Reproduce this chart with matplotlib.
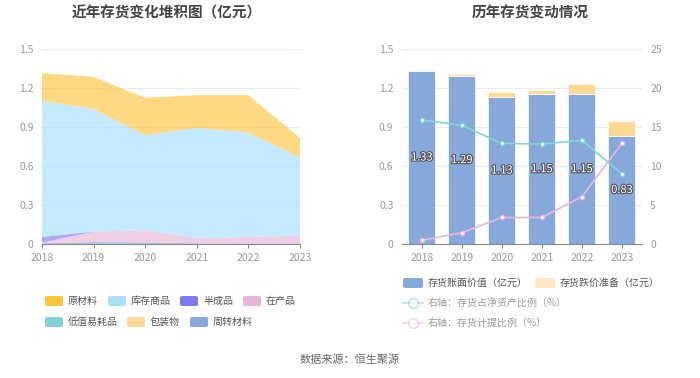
import matplotlib.pyplot as plt
import matplotlib.patheffects as pe
from matplotlib.patches import FancyBboxPatch
from matplotlib.lines import Line2D
import numpy as np

plt.rcParams['font.family'] = ['Noto Sans CJK SC', 'DejaVu Sans']

years = ['2018', '2019', '2020', '2021', '2022', '2023']

# left: stacked inventory breakdown (亿元)
yuancailiao = [0.21, 0.247, 0.288, 0.251, 0.289, 0.148]
kucun = [1.05, 0.943, 0.731, 0.851, 0.802, 0.603]
banchengpin = [0.044, 0.0, 0.0, 0.0, 0.0, 0.0]
zaichanpin = [0.005, 0.08, 0.093, 0.038, 0.05, 0.06]
dizhi = [0.0, 0.0, 0.0, 0.0, 0.0, 0.0]
baozhuang = [0.0, 0.0, 0.0, 0.0, 0.0, 0.0]
zhouzhuan = [0.005, 0.015, 0.012, 0.005, 0.004, 0.004]

# right: book value, provision, ratios
book_value = [1.33, 1.29, 1.13, 1.15, 1.15, 0.83]
provision = [0.007, 0.018, 0.038, 0.036, 0.077, 0.118]
ratio_net_assets = [15.9, 15.2, 12.9, 12.8, 13.3, 9.0]
ratio_provision = [0.47, 1.45, 3.4, 3.4, 6.05, 12.9]

c_yuan = '#FFC53D'
c_kucun = '#A6E0FF'
c_ban = '#7B7BF2'
c_zai = '#E8B4D8'
c_dizhi = '#80D4D8'
c_bao = '#FFD89A'
c_zhou = '#87A8DA'
grid_c = '#E8EAF5'
tick_c = '#999999'

fig = plt.figure(figsize=(7, 3.78), dpi=100)

# ---------- left chart ----------
ax1 = fig.add_axes([0.06, 0.3545, 0.3686, 0.516])
x = np.arange(len(years))
series = [zhouzhuan, baozhuang, dizhi, zaichanpin, banchengpin, kucun, yuancailiao]
colors = [c_zhou, c_bao, c_dizhi, c_zai, c_ban, c_kucun, c_yuan]
ax1.stackplot(x, *series, colors=colors, alpha=0.65, linewidth=0)
ax1.set_xlim(0, 5)
ax1.set_ylim(0, 1.5)
ax1.set_yticks([0, 0.3, 0.6, 0.9, 1.2, 1.5])
ax1.set_yticklabels(['0', '0.3', '0.6', '0.9', '1.2', '1.5'])
ax1.set_xticks(x)
ax1.set_xticklabels(years)
ax1.grid(axis='y', color=grid_c, linewidth=0.8)
ax1.set_axisbelow(True)
for s in ['top', 'right', 'left']:
    ax1.spines[s].set_visible(False)
ax1.spines['bottom'].set_color('#888888')
ax1.tick_params(axis='y', length=0, labelsize=7.5, colors=tick_c, pad=6)
ax1.tick_params(axis='x', length=3, labelsize=7.5, colors=tick_c, color='#888888')

# ---------- right chart ----------
ax2 = fig.add_axes([0.574, 0.3545, 0.343, 0.516])
ax2.bar(x, book_value, width=0.68, color=c_zhou, edgecolor='white', linewidth=0.5, zorder=2)
ax2.bar(x, provision, bottom=book_value, width=0.68, color='#FFD98F',
        edgecolor='white', linewidth=0.5, zorder=2)
for xi, v in zip(x, book_value):
    ax2.text(xi, v / 2, f'{v:.2f}', ha='center', va='center', fontsize=8,
             color='white', zorder=5,
             path_effects=[pe.withStroke(linewidth=1.6, foreground='#555555')])
ax2.set_xlim(-0.5, 5.5)
ax2.set_ylim(0, 1.5)
ax2.set_yticks([0, 0.3, 0.6, 0.9, 1.2, 1.5])
ax2.set_yticklabels(['0', '0.3', '0.6', '0.9', '1.2', '1.5'])
ax2.set_xticks(x)
ax2.set_xticklabels(years)
ax2.grid(axis='y', color=grid_c, linewidth=0.8, zorder=0)
ax2.set_axisbelow(True)
for s in ['top', 'right', 'left']:
    ax2.spines[s].set_visible(False)
ax2.spines['bottom'].set_color('#888888')
ax2.tick_params(axis='y', length=0, labelsize=7.5, colors=tick_c, pad=6)
ax2.tick_params(axis='x', length=3, labelsize=7.5, colors=tick_c, color='#888888')

ax3 = ax2.twinx()
ax3.plot(x, ratio_net_assets, color='#7DD8D3', linewidth=1.2, marker='o',
         markersize=3, markerfacecolor='white', markeredgecolor='#7DD8D3', zorder=4)
ax3.plot(x, ratio_provision, color='#E8B6DA', linewidth=1.2, marker='o',
         markersize=3, markerfacecolor='white', markeredgecolor='#E8B6DA', zorder=4)
ax3.set_ylim(0, 25)
ax3.set_yticks([0, 5, 10, 15, 20, 25])
for s in ['top', 'right', 'left', 'bottom']:
    ax3.spines[s].set_visible(False)
ax3.tick_params(axis='y', length=0, labelsize=7.5, colors=tick_c, pad=6)

# ---------- titles ----------
fig.text(0.238, 0.966, '近年存货变化堆积图（亿元）', ha='center', va='center',
         fontsize=10.5, fontweight='bold', color='#444444')
fig.text(0.757, 0.966, '历年存货变动情况', ha='center', va='center',
         fontsize=10.5, fontweight='bold', color='#444444')
fig.text(0.5, 0.048, '数据来源：恒生聚源', ha='center', va='center',
         fontsize=8, color='#666666')

# ---------- left legend ----------
def swatch(xp, yp, color, label, w=18, h=10):
    fig.patches.append(FancyBboxPatch((xp / 700, 1 - (yp + h / 2) / 378), w / 700, h / 378,
                                      boxstyle='round,pad=0,rounding_size=0.004',
                                      transform=fig.transFigure, facecolor=color,
                                      edgecolor='none'))
    fig.text((xp + w + 5) / 700, 1 - yp / 378, label, ha='left', va='center',
             fontsize=7.2, color='#555555')

legend_left = [
    (45, 301, c_yuan, '原材料'), (108, 301, c_kucun, '库存商品'),
    (180, 301, c_ban, '半成品'), (243, 301, c_zai, '在产品'),
    (45, 322, c_dizhi, '低值易耗品'), (127, 322, c_bao, '包装物'),
    (190, 322, c_zhou, '周转材料'),
]
for xp, yp, col, lab in legend_left:
    swatch(xp, yp, col, lab)

# ---------- right legend ----------
swatch(403, 283, c_zhou, '存货账面价值（亿元）', w=20)
swatch(535, 283, '#FFE8C4', '存货跌价准备（亿元）', w=20)

def line_item(yp, color, label):
    y = 1 - yp / 378
    fig.lines.append(Line2D([403 / 700, 423 / 700], [y, y], transform=fig.transFigure,
                            color=color, linewidth=1.2, alpha=0.6))
    fig.lines.append(Line2D([413 / 700], [y], transform=fig.transFigure, marker='o',
                            markersize=7, markerfacecolor='white', markeredgecolor=color,
                            alpha=0.6, linestyle='none'))
    fig.text(428 / 700, y, label, ha='left', va='center', fontsize=7.2, color='#999999')

line_item(303, '#7DD8D3', '右轴：存货占净资产比例（%）')
line_item(323, '#E8B6DA', '右轴：存货计提比例（%）')

fig.savefig('out.png', dpi=100)
